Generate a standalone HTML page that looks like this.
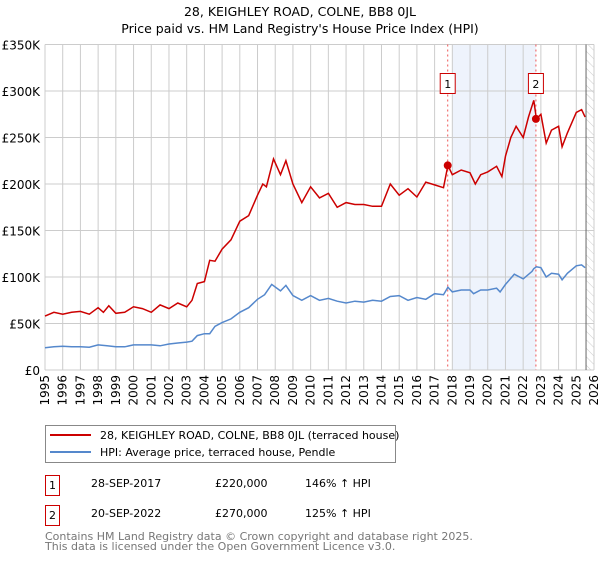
<!DOCTYPE html>
<html><head><meta charset="utf-8"><style>
body{margin:0;background:#fff;font-family:"DejaVu Sans","Liberation Sans",sans-serif;}
</style></head><body>
<svg id="c" width="600" height="560" xmlns="http://www.w3.org/2000/svg" font-family="DejaVu Sans, Liberation Sans, sans-serif">
<text x="300" y="16" text-anchor="middle" font-size="12.5" fill="#000">28, KEIGHLEY ROAD, COLNE, BB8 0JL</text>
<text x="300" y="33" text-anchor="middle" font-size="12.5" fill="#000">Price paid vs. HM Land Registry's House Price Index (HPI)</text>
<defs><pattern id="hatch" width="6" height="6" patternUnits="userSpaceOnUse" patternTransform="rotate(-45)"><line x1="0" y1="0" x2="0" y2="6" stroke="#ccc" stroke-width="1"/></pattern></defs>
<g id="grid"></g>
<g id="marks"></g>
<g id="axes"></g>
<g>
<rect x="45.5" y="425.5" width="350" height="37" fill="#fff" stroke="#888"/>
<line x1="50" y1="435" x2="91" y2="435" stroke="#cc0000" stroke-width="2"/>
<text x="100" y="439" font-size="11">28, KEIGHLEY ROAD, COLNE, BB8 0JL (terraced house)</text>
<line x1="50" y1="452" x2="91" y2="452" stroke="#5588cc" stroke-width="2"/>
<text x="100" y="456" font-size="11">HPI: Average price, terraced house, Pendle</text>
</g>
<g font-size="11">
<rect x="45.5" y="475.5" width="14" height="20" fill="#fff" stroke="#cc0000"/>
<text x="52.5" y="489" text-anchor="middle">1</text>
<text x="91" y="487">28-SEP-2017</text>
<text x="215" y="487">£220,000</text>
<text x="305" y="487">146% ↑ HPI</text>
<rect x="45.5" y="505.5" width="14" height="20" fill="#fff" stroke="#cc0000"/>
<text x="52.5" y="519" text-anchor="middle">2</text>
<text x="91" y="517">20-SEP-2022</text>
<text x="215" y="517">£270,000</text>
<text x="305" y="517">125% ↑ HPI</text>
</g>
<text x="45" y="540" font-size="11" fill="#777">Contains HM Land Registry data © Crown copyright and database right 2025.</text>
<text x="45" y="550" font-size="11" fill="#777">This data is licensed under the Open Government Licence v3.0.</text>
</svg>
<script>
const yTicks=[0,50,100,150,200,250,300,350];
const yTickLabels=["£0","£50K","£100K","£150K","£200K","£250K","£300K","£350K"];
const years=[1995,1996,1997,1998,1999,2000,2001,2002,2003,2004,2005,2006,2007,2008,2009,2010,2011,2012,2013,2014,2015,2016,2017,2018,2019,2020,2021,2022,2023,2024,2025,2026];
const hpiT=[1995,1995.5,1996,1996.5,1997,1997.5,1998,1998.5,1999,1999.5,2000,2000.5,2001,2001.5,2002,2002.5,2003,2003.3,2003.6,2004,2004.3,2004.6,2005,2005.5,2006,2006.5,2007,2007.4,2007.8,2008.3,2008.6,2009,2009.5,2010,2010.5,2011,2011.5,2012,2012.5,2013,2013.5,2014,2014.5,2015,2015.5,2016,2016.5,2017,2017.5,2017.75,2018,2018.5,2019,2019.2,2019.6,2020,2020.5,2020.7,2021,2021.5,2022,2022.5,2022.6,2022.75,2023,2023.3,2023.6,2024,2024.2,2024.5,2025,2025.3,2025.5];
const hpiV=[24,25,25.5,25,25,24.5,27,26,25,25,27,27,27,26,28,29,30,31,37,39,39,47,51,55,62,67,76,81,92,85,91,80,75,80,75,77,74,72,74,73,75,74,79,80,75,78,76,82,81,89,84,86,86,82,86,86,88,84,92,103,98,106,109,111,110,100,104,103,97,104,112,113,110];
const priceT=[1995,1995.5,1996,1996.5,1997,1997.5,1998,1998.3,1998.6,1999,1999.5,2000,2000.5,2001,2001.5,2002,2002.5,2003,2003.3,2003.6,2004,2004.3,2004.6,2005,2005.5,2006,2006.5,2007,2007.3,2007.5,2007.9,2008.3,2008.6,2009,2009.5,2010,2010.5,2011,2011.5,2012,2012.5,2013,2013.5,2014,2014.5,2015,2015.5,2016,2016.5,2017,2017.5,2017.75,2018,2018.5,2019,2019.3,2019.6,2020,2020.5,2020.8,2021,2021.3,2021.6,2022,2022.3,2022.6,2022.75,2023,2023.3,2023.6,2024,2024.2,2024.5,2025,2025.3,2025.5];
const priceV=[58,62,60,62,63,60,67,62,69,61,62,68,66,62,70,66,72,68,75,93,95,118,117,130,140,160,166,188,200,197,227,210,225,200,180,197,185,190,175,180,178,178,176,176,200,188,195,186,202,199,196,220,210,215,212,200,210,213,219,208,230,250,262,250,272,290,270,275,244,258,262,240,255,277,280,272];
const sales=[{t:2017.74,v:220},{t:2022.72,v:270}];
const X0=45,X1=594,Y0=370,Y1=44.5;
const x=t=>X0+(t-1995)/31*(X1-X0);
const y=v=>Y0-v/350*(Y0-Y1);
const NS="http://www.w3.org/2000/svg";
function mk(tag,attrs,parent){const e=document.createElementNS(NS,tag);for(const k in attrs)e.setAttribute(k,attrs[k]);parent.appendChild(e);return e;}
const grid=document.getElementById('grid'),marks=document.getElementById('marks'),axes=document.getElementById('axes');
// shaded band and hatch
let band=mk('rect',{x:x(2018),y:Y1,width:x(sales[1].t)-x(2018),height:Y0-Y1,fill:'#eef3fc'},grid);


let hatch=mk('rect',{x:x(2025.55),y:Y1,width:X1-x(2025.55),height:Y0-Y1,fill:'url(#hatch)'},grid);


years.forEach(yr=>{
  let l=mk('line',{x1:x(yr),x2:x(yr),y1:Y1,y2:Y0,stroke:'#ccc','stroke-width':1},grid);
  
  
  let t=mk('text',{x:0,y:0,'font-size':12,'text-anchor':'end',transform:`translate(${x(yr)+4},${Y0+5}) rotate(-90)`},axes);
  t.textContent=yr;
  
  
});
yTicks.forEach((v,i)=>{
  let l=mk('line',{x1:X0,x2:X1,y1:y(v),y2:y(v),stroke:'#ccc','stroke-width':1},grid);
  
  
  let t=mk('text',{x:40,y:y(v)+5,'font-size':12,'text-anchor':'end'},axes);
  t.textContent=yTickLabels[i];
  
  
});
let vline=mk('line',{x1:x(2025.55),x2:x(2025.55),y1:Y1,y2:Y0,stroke:'#666','stroke-width':1},grid);


sales.forEach((s,i)=>{
  let l=mk('line',{x1:x(s.t),x2:x(s.t),y1:Y1,y2:Y0,stroke:'#ee5555','stroke-width':1,'stroke-dasharray':'2,3'},marks);
  
  
});
function path(T,V){return T.map((t,i)=>(i?'L':'M')+x(t).toFixed(1)+','+y(V[i]).toFixed(1)).join('');}
let hp=mk('path',{d:path(hpiT,hpiV),fill:'none',stroke:'#5588cc','stroke-width':1.5},marks);


let pp=mk('path',{d:path(priceT,priceV),fill:'none',stroke:'#cc0000','stroke-width':1.5},marks);


sales.forEach((s,i)=>{
  let c=mk('circle',{cx:x(s.t),cy:y(s.v),r:4,fill:'#cc0000'},marks);
  
  
  let b=mk('rect',{x:x(s.t)-7.5,y:73.5,width:15,height:20,fill:'#fff',stroke:'#cc0000'},marks);
  
  
  let t=mk('text',{x:x(s.t),y:88,'font-size':11,'text-anchor':'middle'},marks);
  t.textContent=String(i+1);
  
  
});
</script>
</body></html>
